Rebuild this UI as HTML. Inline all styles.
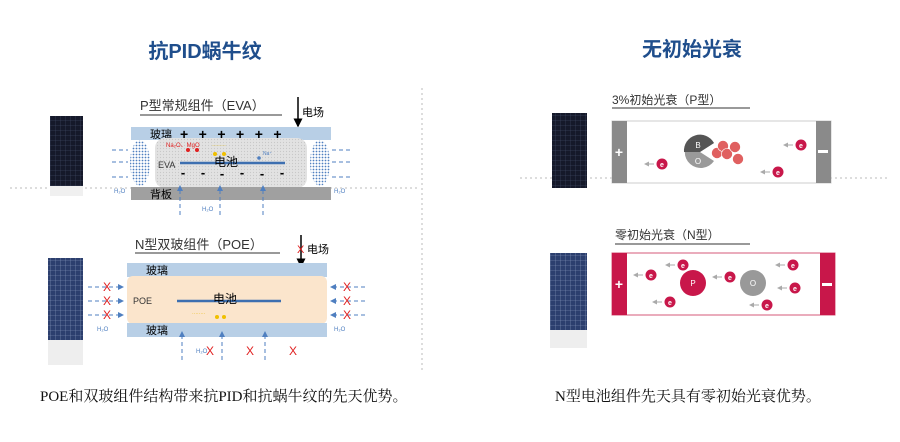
<!DOCTYPE html>
<html><head><meta charset="utf-8"><style>
html,body{margin:0;padding:0;background:#fff;}
svg{display:block;}
text{font-family:"Liberation Sans","Noto Sans CJK SC",sans-serif;}
.s{font-family:"Liberation Serif","Noto Serif CJK SC",serif;}
</style></head><body>
<svg width="900" height="442" viewBox="0 0 900 442" xmlns="http://www.w3.org/2000/svg">
<defs>
<marker id="ab" markerWidth="6" markerHeight="6" refX="5" refY="3" orient="auto"><path d="M0,0 L6,3 L0,6z" fill="#4f7fc0"/></marker>
<marker id="ak" markerWidth="6" markerHeight="6" refX="5" refY="3" orient="auto"><path d="M0,0 L6,3 L0,6z" fill="#000"/></marker>
<marker id="ag" markerWidth="5" markerHeight="5" refX="4" refY="2.5" orient="auto"><path d="M0,0 L5,2.5 L0,5z" fill="#aaa"/></marker>
<pattern id="dots" width="3" height="3" patternUnits="userSpaceOnUse"><rect width="3" height="3" fill="#e2e2e2"/><circle cx="1.5" cy="1.5" r="0.6" fill="#c8c8c8"/></pattern>
<pattern id="bd" width="3" height="3" patternUnits="userSpaceOnUse"><rect width="3" height="3" fill="#fff"/><circle cx="1.5" cy="1.5" r="0.9" fill="#4f7fc0"/></pattern>
<pattern id="grid" width="5" height="5" patternUnits="userSpaceOnUse"><rect width="5" height="5" fill="#15192a"/><path d="M0,0H5M0,0V5" stroke="#4a5570" stroke-width="0.5"/></pattern>
<pattern id="grid2" width="5" height="5" patternUnits="userSpaceOnUse"><rect width="5" height="5" fill="#2c3f6e"/><path d="M0,0H5M0,0V5" stroke="#8a9cc0" stroke-width="0.6"/></pattern>
</defs>
<text x="205" y="58" font-size="20" font-weight="bold" fill="#1f4e8c" text-anchor="middle">抗PID蜗牛纹</text>
<text x="692" y="56" font-size="20" font-weight="bold" fill="#1f4e8c" text-anchor="middle">无初始光衰</text>
<line x1="422" y1="88" x2="422" y2="370" stroke="#bbb" stroke-dasharray="2,3"/>
<line x1="10" y1="188" x2="420" y2="188" stroke="#bbb" stroke-dasharray="2,3"/>
<line x1="520" y1="178" x2="890" y2="178" stroke="#bbb" stroke-dasharray="2,3"/>

<rect x="50" y="116" width="33" height="70" fill="url(#grid)"/>
<rect x="50" y="186" width="33" height="10" fill="#f0f0f0"/>
<text x="140" y="110" font-size="13" fill="#333">P型常规组件（EVA）</text>
<line x1="140" y1="115" x2="282" y2="115" stroke="#333"/>
<line x1="298" y1="97" x2="298" y2="126" stroke="#000" stroke-width="1.5" marker-end="url(#ak)"/>
<text x="302" y="116" font-size="11">电场</text>
<rect x="131" y="127" width="200" height="13" fill="#b8cfe6"/>
<text x="150" y="138" font-size="11">玻璃</text>
<text x="180" y="139" font-size="14" font-weight="bold" letter-spacing="10.5">++++++</text>
<rect x="155" y="138" width="152" height="50" rx="10" fill="url(#dots)"/>
<ellipse cx="140" cy="163" rx="10" ry="23" fill="url(#bd)"/>
<ellipse cx="320" cy="163" rx="10" ry="23" fill="url(#bd)"/>
<g stroke="#4f7fc0" stroke-dasharray="4,3"><line x1="112" y1="150" x2="128" y2="150"/><line x1="112" y1="162" x2="128" y2="162"/><line x1="112" y1="177" x2="128" y2="177"/><line x1="332" y1="150" x2="350" y2="150"/><line x1="332" y1="162" x2="350" y2="162"/><line x1="332" y1="177" x2="350" y2="177"/></g>
<text x="158" y="168" font-size="9" fill="#333">EVA</text>
<text x="166" y="147" font-size="6" fill="#e02020">Na₂O、MgO</text>
<text x="212" y="147" font-size="6" fill="#e6b800">·······</text>
<circle cx="188" cy="150" r="2" fill="#e02020"/><circle cx="197" cy="150" r="2" fill="#e02020"/>
<circle cx="215" cy="154" r="2" fill="#f0c000"/><circle cx="224" cy="154" r="2" fill="#f0c000"/>
<circle cx="259" cy="158" r="1.8" fill="#4f7fc0"/><text x="263" y="155" font-size="5" fill="#4f7fc0">Na⁺</text>
<line x1="180" y1="163" x2="285" y2="163" stroke="#3d6fb0" stroke-width="2.5"/>
<text x="214" y="166" font-size="12">电池</text>
<g font-size="13" font-weight="bold" text-anchor="middle"><text x="183" y="177">-</text><text x="203" y="177">-</text><text x="222" y="178">-</text><text x="242" y="177">-</text><text x="262" y="178">-</text><text x="282" y="177">-</text></g>
<rect x="131" y="187" width="200" height="13" fill="#a0a0a0"/>
<text x="150" y="198" font-size="11">背板</text>
<g stroke="#4f7fc0" stroke-dasharray="4,3" marker-end="url(#ab)"><line x1="180" y1="215" x2="180" y2="186"/><line x1="220" y1="215" x2="220" y2="186"/><line x1="263" y1="215" x2="263" y2="186"/></g>
<text x="114" y="193" font-size="6" fill="#4f7fc0">H₂O</text><text x="334" y="193" font-size="6" fill="#4f7fc0">H₂O</text><text x="202" y="211" font-size="6" fill="#4f7fc0">H₂O</text>

<rect x="48" y="258" width="35" height="100" fill="url(#grid2)"/>
<rect x="48" y="340" width="35" height="25" fill="#eee"/>
<text x="135" y="249" font-size="13" fill="#333">N型双玻组件（POE）</text>
<line x1="135" y1="253" x2="280" y2="253" stroke="#333"/>
<line x1="301" y1="235" x2="301" y2="266" stroke="#000" stroke-width="1.5" marker-end="url(#ak)"/>
<text x="297" y="253" font-size="11" fill="#e02020">X</text><text x="307" y="253" font-size="11">电场</text>
<rect x="127" y="263" width="200" height="14" fill="#b8cfe6"/>
<text x="146" y="274" font-size="11">玻璃</text>
<rect x="127" y="276" width="200" height="48" rx="6" fill="#fbe5cc"/>
<text x="133" y="304" font-size="9" fill="#333">POE</text>
<line x1="177" y1="301" x2="281" y2="301" stroke="#3d6fb0" stroke-width="2.5"/>
<text x="213" y="303" font-size="12">电池</text>
<text x="192" y="315" font-size="5" fill="#e6b800">········</text>
<circle cx="217" cy="317" r="2" fill="#f0c000"/><circle cx="224" cy="317" r="2" fill="#f0c000"/>
<rect x="127" y="323" width="200" height="14" fill="#b8cfe6"/>
<text x="146" y="334" font-size="11">玻璃</text>
<g stroke="#4f7fc0" stroke-dasharray="4,3" marker-end="url(#ab)"><line x1="88" y1="287" x2="123" y2="287"/><line x1="88" y1="301" x2="123" y2="301"/><line x1="88" y1="315" x2="123" y2="315"/><line x1="365" y1="287" x2="331" y2="287"/><line x1="365" y1="301" x2="331" y2="301"/><line x1="365" y1="315" x2="331" y2="315"/><line x1="182" y1="360" x2="182" y2="332"/><line x1="222" y1="360" x2="222" y2="332"/><line x1="265" y1="360" x2="265" y2="332"/></g>
<g font-size="12" fill="#e02020" text-anchor="middle"><text x="107" y="291">X</text><text x="107" y="305">X</text><text x="107" y="319">X</text><text x="347" y="291">X</text><text x="347" y="305">X</text><text x="347" y="319">X</text><text x="210" y="355">X</text><text x="250" y="355">X</text><text x="293" y="355">X</text></g>
<text x="97" y="331" font-size="6" fill="#4f7fc0">H₂O</text><text x="334" y="331" font-size="6" fill="#4f7fc0">H₂O</text><text x="196" y="353" font-size="6" fill="#4f7fc0">H₂O</text>

<rect x="552" y="113" width="35" height="75" fill="url(#grid)"/>
<text x="612" y="104" font-size="12" fill="#333">3%初始光衰（P型）</text>
<line x1="612" y1="108" x2="750" y2="108" stroke="#333"/>
<rect x="612" y="121" width="219" height="62" fill="#fff" stroke="#ccc"/>
<rect x="612" y="121" width="15" height="62" fill="#8a8a8a"/><rect x="816" y="121" width="15" height="62" fill="#8a8a8a"/>
<text x="619" y="157" font-size="14" font-weight="bold" fill="#fff" text-anchor="middle">+</text>
<rect x="818" y="150" width="10" height="3" fill="#fff"/>
<path d="M700,152 L714,143 A16,16 0 1 0 714,161 Z" fill="#9a9a9a"/>
<path d="M700,152 L714,143 A16,16 0 0 0 684,152 Z" fill="#555"/>
<text x="698" y="148" font-size="8" fill="#fff" text-anchor="middle">B</text><text x="698" y="164" font-size="8" fill="#fff" text-anchor="middle">O</text>
<g fill="#e06060" stroke="#fff" stroke-width="0.6"><circle cx="717" cy="153" r="5.5"/><circle cx="723" cy="146" r="5.5"/><circle cx="727" cy="154" r="5.5"/><circle cx="735" cy="147" r="5.5"/><circle cx="738" cy="159" r="5.5"/></g>
<g fill="#c8174a"><circle cx="662" cy="164" r="5.5"/><circle cx="801" cy="145" r="5.5"/><circle cx="778" cy="172" r="5.5"/></g>
<g font-size="7" fill="#fff" text-anchor="middle" font-weight="bold"><text x="662" y="167">e</text><text x="801" y="148">e</text><text x="778" y="175">e</text></g>
<g stroke="#aaa" marker-end="url(#ag)"><line x1="654" y1="164" x2="645" y2="164"/><line x1="793" y1="145" x2="784" y2="145"/><line x1="770" y1="172" x2="761" y2="172"/></g>

<rect x="550" y="253" width="37" height="80" fill="url(#grid2)"/>
<rect x="550" y="330" width="37" height="18" fill="#eee"/>
<text x="615" y="239" font-size="12" fill="#333">零初始光衰（N型）</text>
<line x1="615" y1="244" x2="750" y2="244" stroke="#333"/>
<rect x="612" y="253" width="223" height="62" fill="#fff" stroke="#d45a7a"/>
<rect x="612" y="253" width="15" height="62" fill="#c8174a"/><rect x="820" y="253" width="15" height="62" fill="#c8174a"/>
<text x="619" y="289" font-size="14" font-weight="bold" fill="#fff" text-anchor="middle">+</text>
<rect x="822" y="283" width="10" height="3" fill="#fff"/>
<circle cx="693" cy="283" r="13" fill="#c8174a"/><text x="693" y="286" font-size="8" fill="#fff" text-anchor="middle">P</text>
<circle cx="753" cy="283" r="13" fill="#999"/><text x="753" y="286" font-size="8" fill="#fff" text-anchor="middle">O</text>
<g fill="#c8174a"><circle cx="651" cy="275" r="5.5"/><circle cx="683" cy="265" r="5.5"/><circle cx="730" cy="277" r="5.5"/><circle cx="670" cy="302" r="5.5"/><circle cx="793" cy="265" r="5.5"/><circle cx="795" cy="288" r="5.5"/><circle cx="767" cy="305" r="5.5"/></g>
<g font-size="7" fill="#fff" text-anchor="middle" font-weight="bold"><text x="651" y="278">e</text><text x="683" y="268">e</text><text x="730" y="280">e</text><text x="670" y="305">e</text><text x="793" y="268">e</text><text x="795" y="291">e</text><text x="767" y="308">e</text></g>
<g stroke="#aaa" marker-end="url(#ag)"><line x1="643" y1="275" x2="634" y2="275"/><line x1="675" y1="265" x2="666" y2="265"/><line x1="722" y1="277" x2="713" y2="277"/><line x1="662" y1="302" x2="653" y2="302"/><line x1="785" y1="265" x2="776" y2="265"/><line x1="787" y1="288" x2="778" y2="288"/><line x1="759" y1="305" x2="750" y2="305"/></g>

<text class="s" x="40" y="401" font-size="15" fill="#111">POE和双玻组件结构带来抗PID和抗蜗牛纹的先天优势。</text>
<text class="s" x="555" y="401" font-size="15" fill="#111">N型电池组件先天具有零初始光衰优势。</text>
</svg>
</body></html>
